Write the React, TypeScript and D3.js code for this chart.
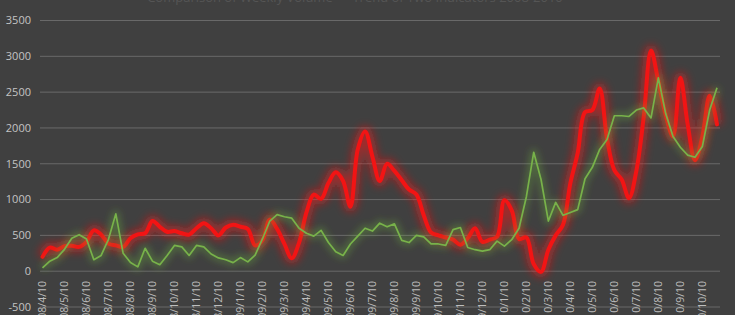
import React from "react";
import * as d3 from "d3";

const W = 735;
const H = 315;

const tickLabels = [
  "2008/4/10","2008/5/10","2008/6/10","2008/7/10","2008/8/10","2008/9/10","2008/10/10","2008/11/10","2008/12/10",
  "2009/1/10","2009/2/10","2009/3/10","2009/4/10","2009/5/10","2009/6/10","2009/7/10","2009/8/10","2009/9/10",
  "2009/10/10","2009/11/10","2009/12/10","2010/1/10","2010/2/10","2010/3/10","2010/4/10","2010/5/10","2010/6/10",
  "2010/7/10","2010/8/10","2010/9/10","2010/10/10",
];

// three observations per month (10th, 20th, 30th)
const days = ["10", "20", "30"];
const categories: string[] = tickLabels.flatMap((t) => {
  const [y, m] = t.split("/");
  return days.map((d) => `${y}/${m}/${d}`);
});

const redSeries = [
  200, 330, 300, 350, 355, 340, 410, 570, 510, 385, 360, 340, 460, 515, 530, 700, 620, 550, 560, 530,
  510, 600, 670, 600, 500, 610, 650, 620, 590, 360, 430, 720, 590, 380, 180, 400, 820, 1070, 1010, 1230,
  1380, 1260, 900, 1700, 1950, 1600, 1260, 1500, 1400, 1270, 1140, 1070, 780, 540, 500, 470, 440, 370, 460, 600,
  410, 440, 480, 990, 850, 450, 470, 100, -10, 300, 500, 650, 1230, 1650, 2220, 2250, 2550, 1850, 1410, 1280,
  1020, 1400, 2150, 3080, 2650, 2180, 1880, 2700, 2050, 1550, 1880, 2450, 2050,
];

const greenSeries = [
  45, 140, 190, 305, 460, 510, 450, 160, 220, 445, 800, 250, 120, 60, 320, 140, 90, 220, 360, 340,
  220, 360, 340, 240, 185, 160, 120, 190, 130, 225, 450, 700, 790, 760, 740, 600, 530, 490, 570, 400,
  270, 220, 380, 490, 600, 560, 670, 620, 660, 430, 400, 500, 480, 380, 380, 360, 580, 610, 330, 300,
  280, 300, 420, 350, 440, 600, 1040, 1660, 1280, 700, 960, 780, 820, 860, 1290, 1450, 1700, 1840, 2170, 2170,
  2160, 2250, 2280, 2140, 2700, 2200, 1880, 1730, 1620, 1590, 1740, 2250, 2560,
];

const yTicks = [-500, 0, 500, 1000, 1500, 2000, 2500, 3000, 3500];

const titleText = "Comparison of Weekly Volume — Trend of Two Indicators 2008-2010";

export default function App() {
  const x = d3.scalePoint<string>().domain(categories).range([42.5, 717]);
  const y = d3.scaleLinear().domain([-500, 3500]).range([307, 20.5]);

  const redLine = d3
    .line<number>()
    .x((_, i) => x(categories[i]) as number)
    .y((d) => y(d))
    .curve(d3.curveCatmullRom.alpha(0.5));
  const greenLine = d3
    .line<number>()
    .x((_, i) => x(categories[i]) as number)
    .y((d) => y(d))
    .curve(d3.curveLinear);

  const redPath = redLine(redSeries) || "";
  const greenPath = greenLine(greenSeries) || "";
  const font = "'Open Sans', 'Noto Sans', sans-serif";

  return (
    <svg
      width={W}
      height={H}
      style={{ position: "absolute", left: 0, top: 0, display: "block" }}
    >
      <defs>
        <filter id="glowRed" x="-5%" y="-20%" width="110%" height="140%">
          <feGaussianBlur stdDeviation="4" />
        </filter>
        <filter id="glowGreen" x="-5%" y="-20%" width="110%" height="140%">
          <feGaussianBlur stdDeviation="3.5" />
        </filter>
      </defs>
      <rect x={0} y={0} width={W} height={H} fill="#404040" />
      <text
        x={355}
        y={2}
        textAnchor="middle"
        fontFamily={font}
        fontSize={13}
        fill="#555555"
      >
        {titleText}
      </text>

      {yTicks.map((t) => (
        <g key={t}>
          <line x1={40} x2={720} y1={y(t)} y2={y(t)} stroke="#696969" strokeWidth={1} />
          <text
            x={31}
            y={y(t)}
            dy="0.35em"
            textAnchor="end"
            fontFamily={font}
            fontSize={11}
            fill="#c4c4c4"
          >
            {t}
          </text>
        </g>
      ))}

      {tickLabels.map((lab, k) => {
        const cx = x(categories[k * 3]) as number;
        return (
          <text
            key={lab}
            transform={`translate(${cx},281) rotate(-90)`}
            dy="0.35em"
            textAnchor="end"
            fontFamily={font}
            fontSize={10.5}
            fill="#bdbdbd"
          >
            {lab}
          </text>
        );
      })}

      <path d={redPath} fill="none" stroke="#ff1a1a" strokeWidth={11} strokeOpacity={0.5} filter="url(#glowRed)" strokeLinejoin="round" />
      <path d={redPath} fill="none" stroke="#f21414" strokeWidth={4} strokeLinejoin="round" strokeLinecap="round" />

      <path d={greenPath} fill="none" stroke="#6fb83c" strokeWidth={7} strokeOpacity={0.35} filter="url(#glowGreen)" strokeLinejoin="round" />
      <path d={greenPath} fill="none" stroke="#78b24a" strokeWidth={1.7} strokeLinejoin="round" />
    </svg>
  );
}
